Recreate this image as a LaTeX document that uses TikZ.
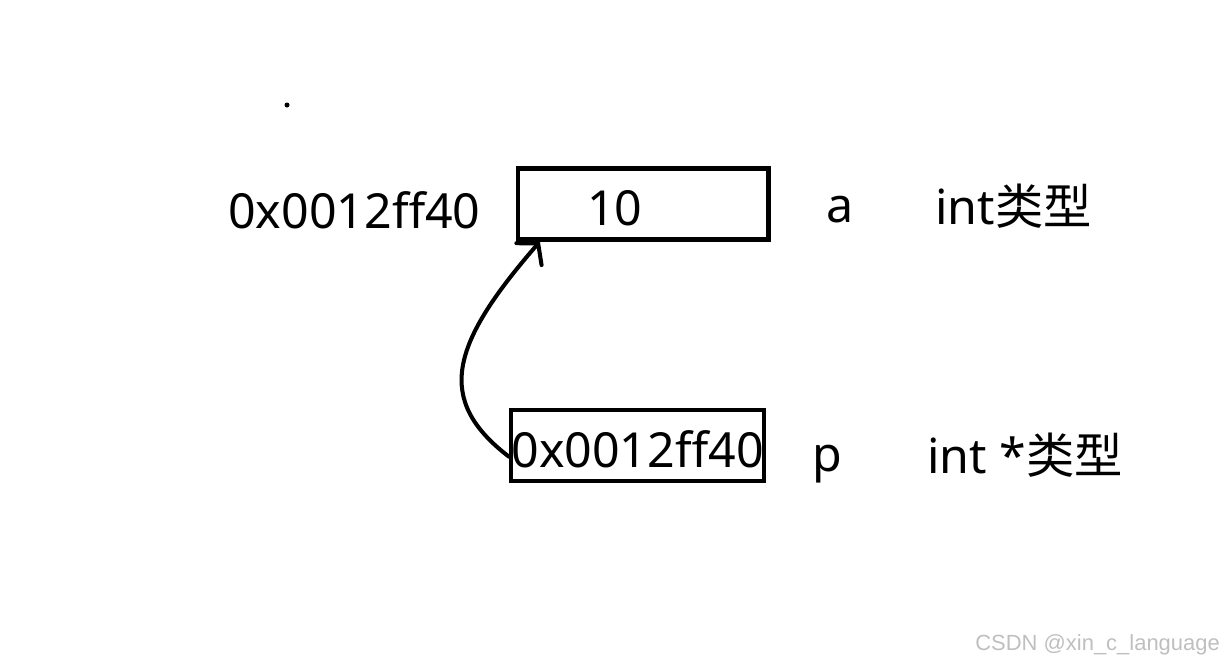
\documentclass[tikz,border=0pt]{standalone}
\usepackage{fontspec}
\setmainfont{Noto Sans}
\newfontfamily\cjk{Noto Sans CJK SC}
\newfontfamily\markfont{Liberation Sans}
\usetikzlibrary{positioning, arrows.meta}
\tikzset{
  cell/.style={
    draw, line width=2.3pt,
    minimum width=5.02cm, minimum height=1.42cm,
    inner sep=0pt, font=\fontsize{27.5}{30}\selectfont
  },
  txt/.style={anchor=base west, inner sep=0pt, font=\fontsize{27.5}{30}\selectfont},
  ptr/.style={line width=2.3pt, line cap=round,
    -{Straight Barb[length=8pt, width=19pt, line cap=round]}},
}

\begin{document}
\begin{tikzpicture}[x=0.02cm, y=-0.02cm]
  \useasboundingbox (0,0) rectangle (1226,664);

  \fill (287,105) circle[radius=0.05cm];

  % variable a
  \node[cell] (boxa) at (643,204) {};
  \node[txt] (ten)   at (587,225) {10};
  \node[txt] (addra) at (228,228) {0x0012ff40};
  \node[txt] (namea) at (826,222) {a};
  \node[txt] (typea) at (935,224) {int{\cjk 类型}};

  % pointer p
  \node[cell, minimum width=5.06cm, text height=0.86cm, text depth=0pt]
                     (boxp)  at (637.5,445.5) {0x0012ff40};
  \node[txt] (namep) at (812,471) {p};
  \node[txt] (typep) at (927,473) {int *{\cjk 类型}};

  \draw[ptr] (boxp.185) .. controls (435,400) and (450,345) .. (boxa.200);

  \node[anchor=base west, inner sep=0pt, text=gray!50,
        font=\markfont\fontsize{12.5}{14}\selectfont]
        (mark) at (975,650) {CSDN @xin\_c\_language};
\end{tikzpicture}
\end{document}
